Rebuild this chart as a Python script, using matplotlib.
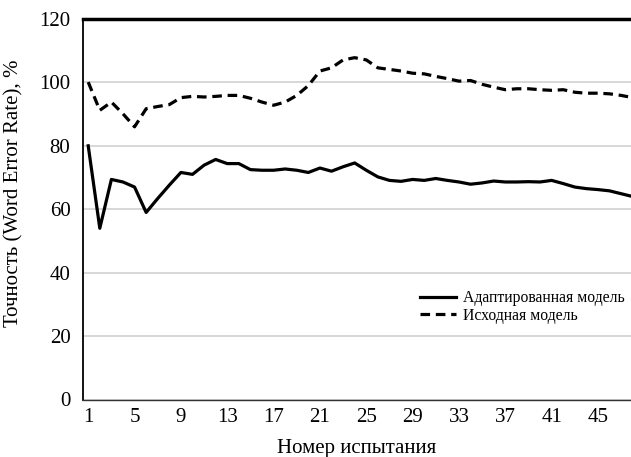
import matplotlib.pyplot as plt
import numpy as np

plt.rcParams['font.family'] = ['Liberation Serif', 'DejaVu Serif']

# номер испытания
trials = np.arange(1, 49)

# адаптированная модель, WER %
adapted = [80.0, 54.0, 69.4, 68.6, 67.0, 59.0, 63.4, 67.6, 71.6, 71.0,
           73.9, 75.7, 74.4, 74.4, 72.5, 72.3, 72.3, 72.7, 72.3, 71.6,
           73.0, 72.0, 73.4, 74.6, 72.3, 70.2, 69.1, 68.8, 69.4, 69.1,
           69.7, 69.1, 68.6, 67.9, 68.3, 68.9, 68.6, 68.6, 68.7, 68.6,
           69.1, 68.1, 67.0, 66.5, 66.2, 65.8, 64.9, 64.0]

# исходная модель, WER %
original = [100.1, 91.2, 93.8, 90.1, 86.0, 91.7, 92.4, 93.0, 95.2, 95.6,
            95.4, 95.6, 95.9, 95.9, 95.0, 93.8, 92.8, 93.8, 95.9, 99.0,
            103.6, 104.6, 107.1, 107.8, 107.1, 104.6, 104.1, 103.6, 102.9, 102.7,
            101.9, 101.2, 100.4, 100.6, 99.4, 98.5, 97.7, 98.0, 98.0, 97.7,
            97.5, 97.7, 96.9, 96.6, 96.6, 96.4, 95.9, 95.2]

xticks = np.arange(1, 46, 4)
yticks = np.arange(0, 121, 20)

fig = plt.figure(figsize=(6.31, 4.57), dpi=100)
ax = fig.add_axes([83/631, 1 - 399.5/457, 1 - 83/631, (399.5 - 19)/457])

ax.plot(trials, adapted, color='black', lw=2.3, label='Адаптированная модель')
ax.plot(trials, original, color='black', lw=2.3, ls=(0, (3.0, 1.8)),
        label='Исходная модель')

ax.set_xlim(0.55, 47.85)
ax.set_ylim(0, 120)
ax.set_xticks(xticks)
ax.set_yticks(yticks)
ax.tick_params(axis='both', length=0, labelsize=15)
ax.tick_params(axis='x', pad=6)
ax.tick_params(axis='y', pad=9)

ax.grid(axis='y', color='#d4d4d4', lw=1.3)
ax.set_axisbelow(True)

ax.spines['right'].set_visible(False)
ax.spines['top'].set_linewidth(2.5)
ax.spines['left'].set_linewidth(1.3)
ax.spines['bottom'].set_linewidth(1.0)
ax.spines['bottom'].set_color('#333333')

ax.set_xlabel('Номер испытания', fontsize=15, labelpad=9)
ax.set_ylabel('Точность (Word Error Rate), %', fontsize=15)
ax.yaxis.set_label_coords(-0.108, 0.543)

ax.legend(loc='upper left', bbox_to_anchor=(0.6, 0.308), frameon=False,
          fontsize=11.3, handlelength=2.3, handletextpad=0.45,
          labelspacing=0.1, borderpad=0)

fig.savefig('out.png', dpi=100)
